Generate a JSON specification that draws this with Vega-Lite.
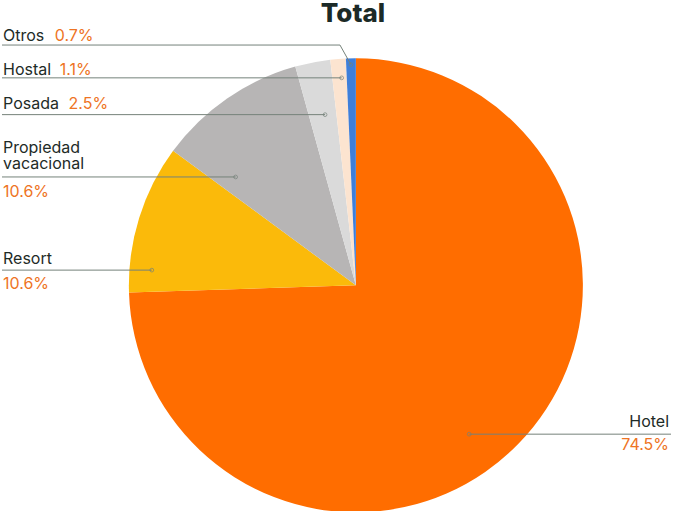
{
  "$schema": "https://vega.github.io/schema/vega-lite/v6.json",
  "width": 673,
  "height": 511,
  "autosize": {"type": "fit", "contains": "padding"},
  "padding": 0,
  "background": "white",
  "config": {"view": {"stroke": null}, "font": "Inter"},
  "datasets": {
    "slices": [
      {"cat": "Hotel", "pct": 74.5, "order": 1},
      {"cat": "Resort", "pct": 10.6, "order": 2},
      {"cat": "Propiedad vacacional", "pct": 10.6, "order": 3},
      {"cat": "Posada", "pct": 2.5, "order": 4},
      {"cat": "Hostal", "pct": 1.1, "order": 5},
      {"cat": "Otros", "pct": 0.7, "order": 6}
    ],
    "labels": [
      {"cat": "Otros", "part": "name", "text": "Otros", "x": -1.5639, "y": 1.0837},
      {"cat": "Otros", "part": "pct", "text": "0.7%", "x": -1.3348, "y": 1.0837},
      {"cat": "Hostal", "part": "name", "text": "Hostal", "x": -1.5639, "y": 0.9339},
      {"cat": "Hostal", "part": "pct", "text": "1.1%", "x": -1.3128, "y": 0.9339},
      {"cat": "Posada", "part": "name", "text": "Posada", "x": -1.5639, "y": 0.7797},
      {"cat": "Posada", "part": "pct", "text": "2.5%", "x": -1.2731, "y": 0.7797},
      {"cat": "Propiedad vacacional", "part": "name", "text": "Propiedad", "x": -1.5639, "y": 0.5872},
      {"cat": "Propiedad vacacional", "part": "name", "text": "vacacional", "x": -1.5639, "y": 0.5167},
      {"cat": "Propiedad vacacional", "part": "pct", "text": "10.6%", "x": -1.5639, "y": 0.3921},
      {"cat": "Resort", "part": "name", "text": "Resort", "x": -1.5639, "y": 0.0956},
      {"cat": "Resort", "part": "pct", "text": "10.6%", "x": -1.5639, "y": -0.0145},
      {"cat": "Hotel", "part": "name", "text": "Hotel", "x": 1.3877, "y": -0.6256},
      {"cat": "Hotel", "part": "pct", "text": "74.5%", "x": 1.3877, "y": -0.7313}
    ],
    "leaders": [
      {"cat": "Otros", "seq": 0, "x": -1.5683, "y": 1.0648},
      {"cat": "Otros", "seq": 1, "x": -0.0705, "y": 1.0648},
      {"cat": "Otros", "seq": 2, "x": -0.022, "y": 0.978},
      {"cat": "Hostal", "seq": 0, "x": -1.5683, "y": 0.9194},
      {"cat": "Hostal", "seq": 1, "x": -0.063, "y": 0.9194},
      {"cat": "Posada", "seq": 0, "x": -1.5683, "y": 0.7564},
      {"cat": "Posada", "seq": 1, "x": -0.1366, "y": 0.7564},
      {"cat": "Propiedad vacacional", "seq": 0, "x": -1.5683, "y": 0.4802},
      {"cat": "Propiedad vacacional", "seq": 1, "x": -0.533, "y": 0.4802},
      {"cat": "Resort", "seq": 0, "x": -1.5683, "y": 0.0674},
      {"cat": "Resort", "seq": 1, "x": -0.9044, "y": 0.0674},
      {"cat": "Hotel", "seq": 0, "x": 1.3965, "y": -0.6595},
      {"cat": "Hotel", "seq": 1, "x": 0.5022, "y": -0.6595}
    ]
  },
  "resolve": {"scale": {"color": "independent"}},
  "layer": [
    {
      "data": {"name": "slices"},
      "mark": {"type": "arc", "outerRadius": 227, "stroke": null},
      "encoding": {
        "x": {"datum": 0, "type": "quantitative", "scale": {"domain": [-1.5683, 1.3965], "nice": false, "zero": false}, "axis": null},
        "y": {"datum": 0, "type": "quantitative", "scale": {"domain": [-1.0, 1.2511], "nice": false, "zero": false}, "axis": null},
        "theta": {"field": "pct", "type": "quantitative", "stack": true},
        "order": {"field": "order", "type": "quantitative", "sort": "ascending"},
        "color": {
          "field": "cat", "type": "nominal", "legend": null,
          "scale": {
            "domain": ["Hotel", "Resort", "Propiedad vacacional", "Posada", "Hostal", "Otros"],
            "range": ["#FF6D00", "#FBBA0A", "#B7B5B5", "#DADADA", "#FCE4D0", "#3F7FDA"]
          }
        }
      }
    },
    {
      "data": {"name": "leaders"},
      "mark": {"type": "line", "color": "#75827a", "strokeWidth": 1},
      "encoding": {
        "x": {"field": "x", "type": "quantitative", "scale": {"domain": [-1.5683, 1.3965], "nice": false, "zero": false}, "axis": null},
        "y": {"field": "y", "type": "quantitative", "scale": {"domain": [-1.0, 1.2511], "nice": false, "zero": false}, "axis": null},
        "detail": {"field": "cat", "type": "nominal"},
        "order": {"field": "seq", "type": "quantitative"}
      }
    },
    {
      "data": {"name": "leaders"},
      "transform": [
        {"joinaggregate": [{"op": "max", "field": "seq", "as": "maxSeq"}], "groupby": ["cat"]},
        {"filter": "datum.seq == datum.maxSeq"}
      ],
      "mark": {"type": "point", "filled": false, "color": "#75827a", "size": 14, "strokeWidth": 1},
      "encoding": {
        "x": {"field": "x", "type": "quantitative", "axis": null},
        "y": {"field": "y", "type": "quantitative", "axis": null}
      }
    },
    {
      "data": {"name": "labels"},
      "transform": [{"filter": "datum.cat != 'Hotel'"}],
      "mark": {"type": "text", "align": "left", "baseline": "alphabetic", "fontSize": 16, "font": "Inter"},
      "encoding": {
        "x": {"field": "x", "type": "quantitative", "axis": null},
        "y": {"field": "y", "type": "quantitative", "axis": null},
        "text": {"field": "text", "type": "nominal"},
        "color": {"field": "part", "type": "nominal", "legend": null, "scale": {"domain": ["name", "pct"], "range": ["#1E2B27", "#EE7424"]}}
      }
    },
    {
      "data": {"name": "labels"},
      "transform": [{"filter": "datum.cat == 'Hotel'"}],
      "mark": {"type": "text", "align": "right", "baseline": "alphabetic", "fontSize": 16, "font": "Inter"},
      "encoding": {
        "x": {"field": "x", "type": "quantitative", "axis": null},
        "y": {"field": "y", "type": "quantitative", "axis": null},
        "text": {"field": "text", "type": "nominal"},
        "color": {"field": "part", "type": "nominal", "legend": null, "scale": {"domain": ["name", "pct"], "range": ["#1E2B27", "#EE7424"]}}
      }
    },
    {
      "data": {"values": [{"title": "Total"}]},
      "mark": {"type": "text", "align": "center", "baseline": "alphabetic", "fontSize": 26, "fontWeight": 800, "font": "Inter", "color": "#1B2A27"},
      "encoding": {
        "x": {"datum": -0.0132, "type": "quantitative", "axis": null},
        "y": {"datum": 1.1674, "type": "quantitative", "axis": null},
        "text": {"field": "title", "type": "nominal"}
      }
    }
  ]
}
